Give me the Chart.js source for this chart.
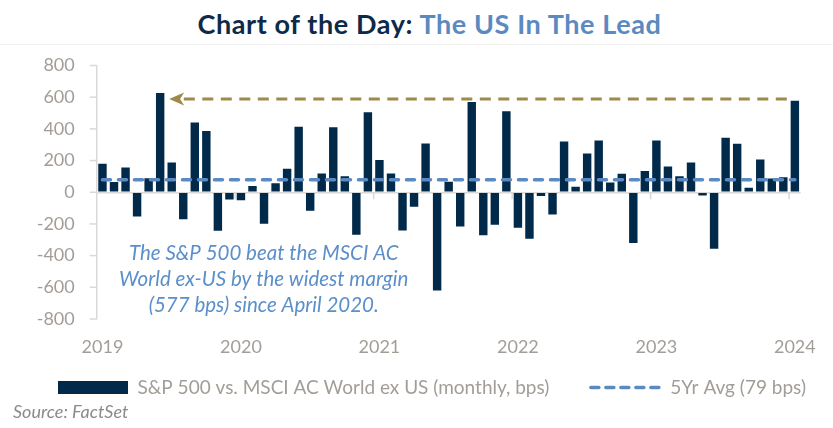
<!DOCTYPE html>
<html>
<head>
<meta charset="utf-8">
<script src="https://cdn.jsdelivr.net/npm/chart.js@4/dist/chart.umd.min.js"></script>
<style>
  html, body { margin: 0; padding: 0; background: #fff; }
  body { width: 833px; height: 428px; position: relative; overflow: hidden; font-family: Lato, sans-serif; }
  #title { position: absolute; left: 0; top: 0; width: 807px; padding-left: 26px; height: 44px; border-bottom: 1px solid #f2f2f2;
           text-align: center; font-weight: bold; font-size: 27px; letter-spacing: 0.6px; line-height: 47px; color: #0d2a4a; }
  #title span { color: #5a8ac0; }
  #wrap { position: absolute; left: 0; top: 45px; width: 833px; height: 383px; }
  #myChart { display: block; }
  #source { position: absolute; left: 13px; top: 400px; font-style: italic; font-size: 18px; color: #8a8a8a; }
</style>
</head>
<body>
<div id="title">Chart of the Day: <span>The US In The Lead</span></div>
<div id="wrap"><canvas id="myChart"></canvas></div>
<div id="source">Source: FactSet</div>
<script>
const ctx = document.getElementById('myChart').getContext('2d');

// monthly spread, Jan 2019 .. Jan 2024 (bps)
const spread = [
  180, 65, 157, -153, 88, 627, 187, -170, 440, 386, -243, -46,
  -50, 40, -199, 57, 149, 413, -117, 119, 411, 101, -268, 505,
  203, 119, -241, -92, 308, -620, 67, -216, 570, -272, -205, 511,
  -224, -293, -23, -140, 321, 34, 245, 327, 61, 117, -321, 134,
  327, 163, 101, 187, -21, -356, 344, 306, 29, 207, 86, 94,
  577
]
const avgValue = 79
const arrowValue = 588
const yearLabels = ['2019', '2020', '2021', '2022', '2023', '2024']
const yTicks = [-800, -600, -400, -200, 0, 200, 400, 600, 800]

const labels = spread.map((v, i) => yearLabels[Math.floor(i / 12)] + '-' + String(i % 12 + 1).padStart(2, '0'))

const tickGray = '#a39d97'
const axisGray = '#d9d9d9'

const data = {
  labels,
  datasets: [{
    type: 'bar',
    label: 'S&P 500 vs. MSCI AC World ex US (monthly, bps)',
    data: spread,
    backgroundColor: '#012a4a',
    barPercentage: 0.73,
    categoryPercentage: 1,
    order: 2
  }, {
    type: 'line',
    label: '5Yr Avg (79 bps)',
    data: labels.map(() => avgValue),
    borderColor: '#5a8ac0',
    borderWidth: 3.5,
    borderDash: [8, 8],
    borderCapStyle: 'round',
    pointRadius: 0,
    fill: false,
    yAxisID: 'y',
    order: 1
  }]
}

// short tick marks, the gold arrow and the note
const extras = {
  id: 'extras',
  beforeDatasetsDraw(chart) {
    const x = chart.scales.x, y = chart.scales.y
    const y0 = y.getPixelForValue(0)
    const half = (x.getPixelForValue(1) - x.getPixelForValue(0)) / 2
    const c = chart.ctx
    c.save()
    c.strokeStyle = axisGray
    c.lineWidth = 1.5
    // year separators hanging from the zero line
    for (let i = 12; i < labels.length; i += 12) {
      const px = x.getPixelForValue(i) - half
      c.beginPath()
      c.moveTo(px, y0)
      c.lineTo(px, y0 + 7)
      c.stroke()
    }
    // y tick marks left of the axis
    y.ticks.forEach(t => {
      const py = y.getPixelForValue(t.value)
      c.beginPath()
      c.moveTo(y.right - 7, py)
      c.lineTo(y.right, py)
      c.stroke()
    })
    c.restore()
  },
  afterDatasetsDraw(chart) {
    const x = chart.scales.x, y = chart.scales.y
    const c = chart.ctx
    const half = (x.getPixelForValue(1) - x.getPixelForValue(0)) / 2
    const ay = y.getPixelForValue(arrowValue)
    const tip = x.getPixelForValue(5) + half * 1.55
    const end = x.getPixelForValue(labels.length - 1) - half * 1.4
    c.save()
    c.strokeStyle = '#9e8a4a'
    c.fillStyle = '#9e8a4a'
    c.lineWidth = 3
    c.setLineDash([11, 7.5])
    c.beginPath()
    c.moveTo(end, ay)
    c.lineTo(tip + 14, ay)
    c.stroke()
    c.setLineDash([])
    c.beginPath()
    c.moveTo(tip, ay)
    c.lineTo(tip + 15, ay - 6.5)
    c.lineTo(tip + 11, ay)
    c.lineTo(tip + 15, ay + 6.5)
    c.closePath()
    c.fill()

    c.fillStyle = '#5b8fca'
    c.font = 'italic 20.5px Lato'
    c.textAlign = 'center'
    c.textBaseline = 'middle'
    const cx = chart.chartArea.left + 167
    const lines = ['The S&P 500 beat the MSCI AC', 'World ex-US by the widest margin', '(577 bps) since April 2020.']
    lines.forEach((t, i) => c.fillText(t, cx, y.getPixelForValue(0) + 61 + i * 26))
    c.restore()
  }
}

const config = {
  data,
  options: {
    responsive: true,
    maintainAspectRatio: false,
    animation: false,
    layout: { padding: { left: 36, right: 0, top: 20.5, bottom: 21 } },
    plugins: {
      title: { display: false },
      tooltip: { enabled: false },
      legend: {
        position: 'bottom',
        align: 'start',
        labels: {
          usePointStyle: true,
          pointStyleWidth: 70,
          boxHeight: 13,
          padding: 22,
          color: tickGray,
          font: { family: 'Lato', size: 19 },
          sort: (a, b) => a.datasetIndex - b.datasetIndex,
          generateLabels(chart) {
            const items = Chart.defaults.plugins.legend.labels.generateLabels(chart)
            items.forEach(it => {
              if (it.datasetIndex === 0) {
                it.pointStyle = 'rect'
                it.lineWidth = 0
                it.text = it.text + '    '
              } else {
                it.pointStyle = 'line'
                it.lineWidth = 3.5
                it.lineDash = [8, 7]
                it.lineCap = 'round'
              }
            })
            return items
          }
        }
      }
    },
    scales: {
      x: {
        type: 'category',
        offset: true,
        grid: { display: false, drawTicks: false },
        border: { display: false },
        afterFit: s => { s.height = 37 },
        ticks: {
          autoSkip: false,
          maxRotation: 0,
          padding: 17,
          color: tickGray,
          font: { family: 'Lato', size: 18 },
          callback: (v, i) => (i % 12 === 0 ? yearLabels[i / 12] : '')
        }
      },
      y: {
        min: -800,
        max: 800,
        afterFit: s => { s.width = 60.7 },
        afterBuildTicks: s => { s.ticks = yTicks.map(v => ({ value: v })) },
        grid: {
          color: c => (c.tick && c.tick.value === 0 ? axisGray : 'transparent'),
          tickColor: 'transparent',
          tickLength: 19,
          lineWidth: 1.5
        },
        border: { display: true, color: axisGray, width: 1.5 },
        ticks: {
          padding: 3,
          color: tickGray,
          font: { family: 'Lato', size: 18 }
        }
      },
      // empty right-hand strip so the plot stops where the original does
      yR: {
        type: 'linear',
        position: 'right',
        grid: { display: false },
        border: { display: false },
        ticks: { display: false },
        afterFit: s => { s.width = 30.5 }
      }
    }
  },
  plugins: [extras]
}

const myChart = new Chart(ctx, config)
</script>
</body>
</html>
